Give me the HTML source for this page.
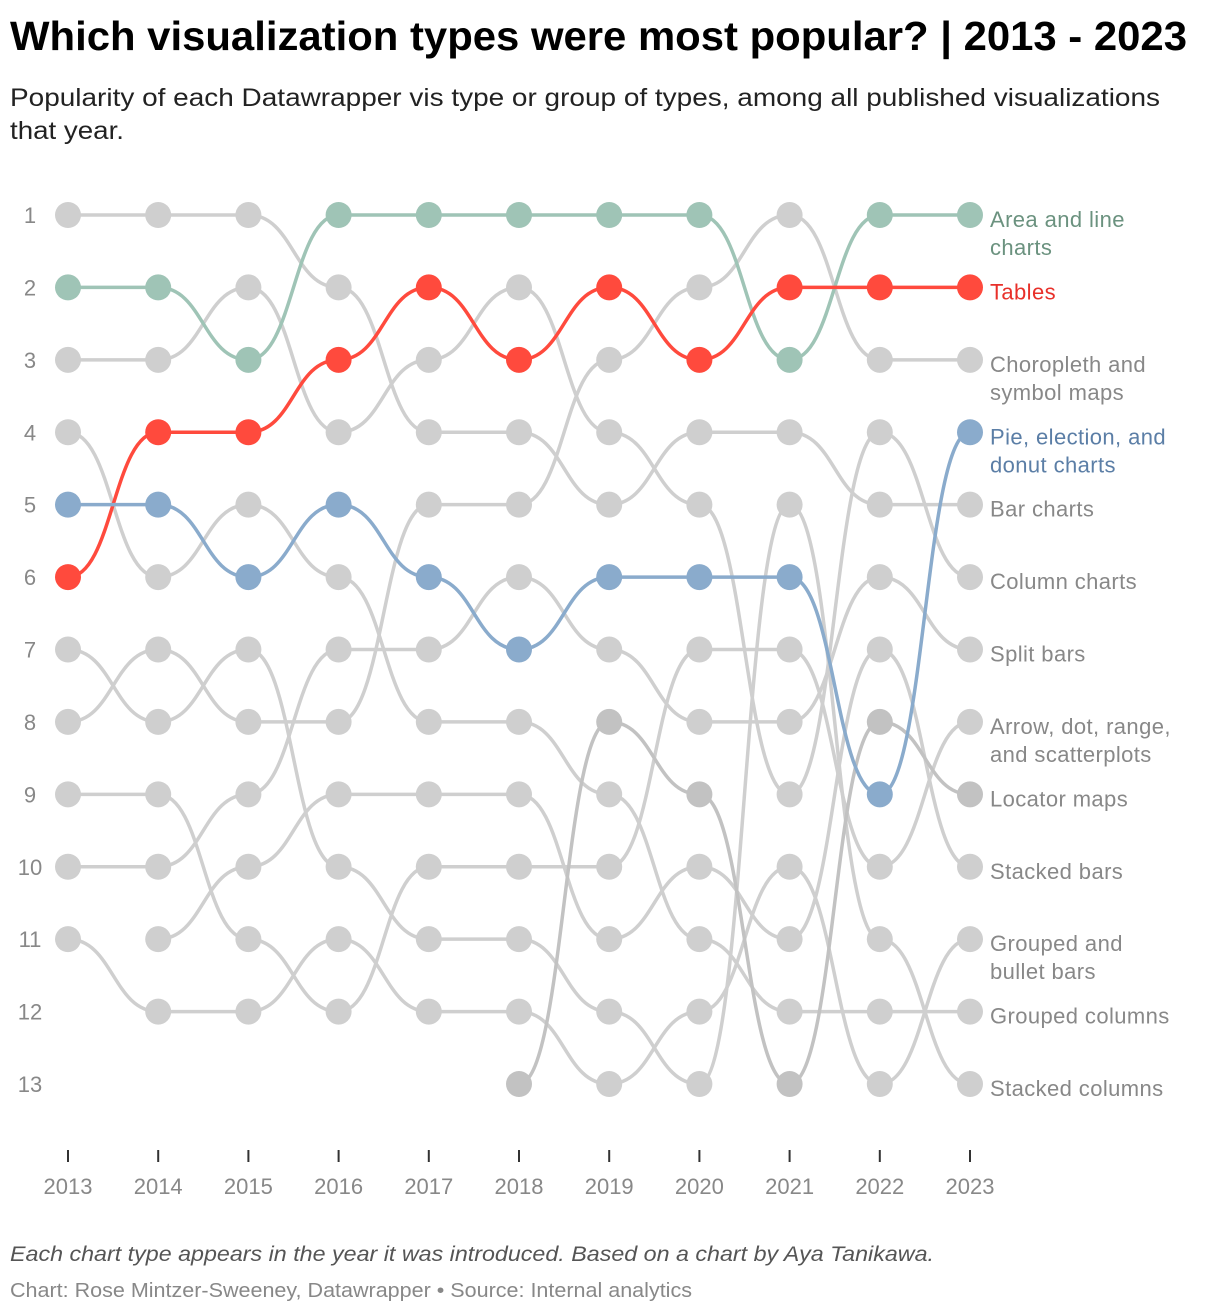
<!DOCTYPE html>
<html><head><meta charset="utf-8"><style>
body{margin:0;background:#fff;}
svg{display:block;font-family:"Liberation Sans",sans-serif;}
</style></head><body>
<svg id="chart" width="1220" height="1314" viewBox="0 0 1220 1314" xmlns="http://www.w3.org/2000/svg">
<text x="10" y="50" font-size="41" font-weight="bold" fill="#000" textLength="1177" lengthAdjust="spacingAndGlyphs">Which visualization types were most popular? | 2013 - 2023</text>
<text x="10" y="106" font-size="25" fill="#222" textLength="1150" lengthAdjust="spacingAndGlyphs">Popularity of each Datawrapper vis type or group of types, among all published visualizations</text>
<text x="10" y="139" font-size="25" fill="#222" textLength="114" lengthAdjust="spacingAndGlyphs">that year.</text>
<g id="yaxis"></g>
<g id="xaxis"></g>
<g id="lines"></g>
<g id="dots"></g>
<g id="labels"></g>
<text x="10" y="1261" font-size="21" font-style="italic" fill="#555" textLength="924" lengthAdjust="spacingAndGlyphs">Each chart type appears in the year it was introduced. Based on a chart by Aya Tanikawa.</text>
<text x="10" y="1297" font-size="20" fill="#888" textLength="682" lengthAdjust="spacingAndGlyphs">Chart: Rose Mintzer-Sweeney, Datawrapper • Source: Internal analytics</text>
</svg>
<script>
const years = [2013,2014,2015,2016,2017,2018,2019,2020,2021,2022,2023];
const rankTicks = [1,2,3,4,5,6,7,8,9,10,11,12,13];
const seriesNames = ["Bar charts","Column charts","Grouped columns","Stacked columns","Choropleth and symbol maps","Arrow, dot, range, and scatterplots","Split bars","Grouped and bullet bars","Stacked bars","Locator maps","Area and line charts","Tables","Pie, election, and donut charts"];
const rankBar = [1,1,1,2,4,4,5,4,4,5,5];
const rankColumn = [3,3,2,4,3,2,4,5,9,4,6];
const rankGroupedColumns = [4,6,5,6,8,8,9,11,12,12,12];
const rankStackedColumns = [7,8,7,10,11,11,12,13,5,11,13];
const rankChoropleth = [8,7,8,8,5,5,3,2,1,3,3];
const rankArrow = [9,9,11,12,10,10,10,7,7,10,8];
const rankSplit = [10,10,9,7,7,6,7,8,8,6,7];
const rankGroupedBars = [11,12,12,11,12,12,13,12,10,13,11];
const rankStackedBars = [null,11,10,9,9,9,11,10,11,7,10];
const rankLocator = [null,null,null,null,null,13,8,9,13,8,9];
const rankArea = [2,2,3,1,1,1,1,1,3,1,1];
const rankTables = [6,4,4,3,2,3,2,3,2,2,2];
const rankPie = [5,5,6,5,6,7,6,6,6,9,4];

const allRanks = [rankBar,rankColumn,rankGroupedColumns,rankStackedColumns,rankChoropleth,rankArrow,rankSplit,rankGroupedBars,rankStackedBars,rankLocator,rankArea,rankTables,rankPie];
const styles = [
 ["#cfcfcf","#888"],["#cfcfcf","#888"],["#cfcfcf","#888"],["#cfcfcf","#888"],["#cfcfcf","#888"],["#cfcfcf","#888"],["#cfcfcf","#888"],["#cfcfcf","#888"],["#cfcfcf","#888"],["#c2c2c2","#888"],
 ["#9fc4b6","#6b927f"],["#ff4a3d","#e8302a"],["#8aabcc","#5b7ea6"]];
const x = i => 68 + i*(970-68)/10;
const y = r => 215 + (r-1)*(1084-215)/12;
const NS="http://www.w3.org/2000/svg";
function mk(tag,attrs,parent){const e=document.createElementNS(NS,tag);for(const k in attrs)e.setAttribute(k,attrs[k]);parent.appendChild(e);return e;}
const gy=document.getElementById('yaxis'),gx=document.getElementById('xaxis'),gl=document.getElementById('lines'),gd=document.getElementById('dots'),gt=document.getElementById('labels');
rankTicks.forEach(r=>{const t=mk('text',{x:30,y:y(r)+8,'font-size':22,fill:'#888','text-anchor':'middle'},gy);t.textContent=r;

});
years.forEach((yr,i)=>{const l=mk('line',{x1:x(i),x2:x(i),y1:1150,y2:1162,stroke:'#333','stroke-width':2},gx);


const t=mk('text',{x:x(i),y:1194,'font-size':22,fill:'#888','text-anchor':'middle'},gx);t.textContent=yr;

});
const multi={"Area and line charts":["Area and line","charts"],"Choropleth and symbol maps":["Choropleth and","symbol maps"],"Pie, election, and donut charts":["Pie, election, and","donut charts"],"Arrow, dot, range, and scatterplots":["Arrow, dot, range,","and scatterplots"],"Grouped and bullet bars":["Grouped and","bullet bars"]};
allRanks.forEach((ranks,s)=>{
 const [col,tcol]=styles[s];
 let d='';let started=false;
 for(let i=0;i<ranks.length;i++){if(ranks[i]==null)continue;
  if(!started){d='M'+x(i)+','+y(ranks[i]);started=true;}
  else{const x0=x(i-1),y0=y(ranks[i-1]),x1=x(i),y1=y(ranks[i]),m=(x0+x1)/2;d+=' C'+m+','+y0+' '+m+','+y1+' '+x1+','+y1;}}
 const p=mk('path',{d:d,fill:'none',stroke:col,'stroke-width':3.5},gl);
 
 
 ranks.forEach((r,i)=>{if(r==null)return;const c=mk('circle',{cx:x(i),cy:y(r),r:13,fill:col},gd);
 
 });
 const last=ranks[ranks.length-1];const name=seriesNames[s];const lines=multi[name]||[name];
 const t=mk('text',{x:990,y:y(last)+12,'font-size':22,'letter-spacing':0.4,fill:tcol},gt);
 
 
 lines.forEach((ln,k)=>{const ts=mk('tspan',{x:990,dy:k?28:0},t);ts.textContent=ln;});
});
</script>
</body></html>
